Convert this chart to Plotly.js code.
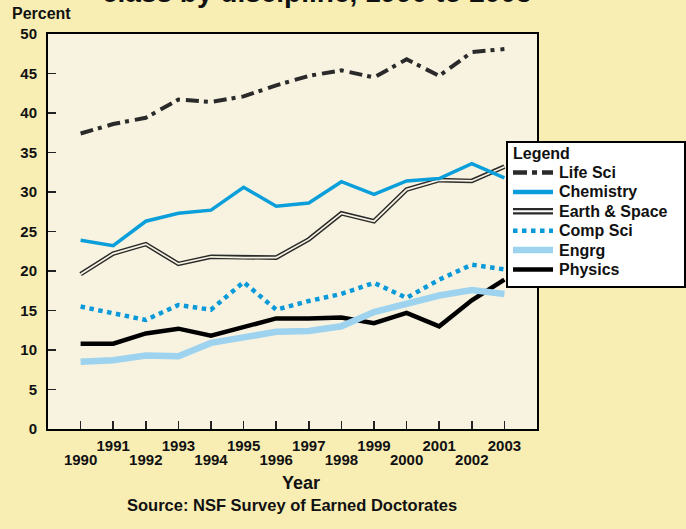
<!DOCTYPE html>
<html>
<head>
<meta charset="utf-8">
<script src="https://cdn.plot.ly/plotly-3.0.1.min.js"></script>
<style>html,body{margin:0;padding:0;background:#F8EEB4;}#chart{width:686px;height:529px;}</style>
</head>
<body>
<div id="chart"></div>
<script>
const years = [1990,1991,1992,1993,1994,1995,1996,1997,1998,1999,2000,2001,2002,2003];
const lifeSci   = [37.4,38.6,39.4,41.7,41.4,42.1,43.5,44.7,45.4,44.5,46.8,44.7,47.7,48.1];
const chemistry = [23.9,23.2,26.3,27.3,27.7,30.6,28.2,28.6,31.3,29.7,31.4,31.7,33.6,31.8];
const earthSpace= [19.6,22.2,23.4,20.9,21.8,21.7,21.7,24.0,27.3,26.3,30.3,31.5,31.4,33.2];
const compSci   = [15.5,14.6,13.8,15.7,15.1,18.6,15.1,16.2,17.1,18.5,16.6,18.9,20.8,20.2];
const engrg     = [8.5,8.7,9.3,9.2,10.9,11.6,12.3,12.4,13.0,14.8,15.8,16.9,17.6,17.1];
const physics   = [10.8,10.8,12.1,12.7,11.8,12.9,14.0,14.0,14.1,13.4,14.7,13.0,16.3,18.9];
const seriesNames = ['Life Sci','Chemistry','Earth & Space','Comp Sci','Engrg','Physics'];
const oddYears = years.filter(y => y % 2 === 1);
const evenYears = years.filter(y => y % 2 === 0);
const yTicks = [0,5,10,15,20,25,30,35,40,45,50];

const FONT = 'Liberation Sans, Arial, sans-serif';
const PLOTBG = '#F8F3E1';
const INK = '#111111';

// styles, in legend order
const styles = [
  {color:'#2A2A2A', width:4, dash:'13px,5px,4px,6px'},
  {color:'#0A9FDB', width:3.5, dash:'solid'},
  {color:'#2A2A2A', width:4.6, dash:'solid', inner:1.7},
  {color:'#0A9ADA', width:4.5, dash:'dot'},
  {color:'#9DD3EE', width:6.5, dash:'solid'},
  {color:'#000000', width:4.5, dash:'solid'}
];
const seriesData = [lifeSci, chemistry, earthSpace, compSci, engrg, physics];

// draw order (bottom to top): Physics, Engrg, Comp Sci, Earth & Space, Chemistry, Life Sci
const drawOrder = [5,4,3,2,1,0];
const traces = [];
drawOrder.forEach(i => {
  const s = styles[i];
  traces.push({x: years, y: seriesData[i], name: seriesNames[i], mode:'lines',
    line:{color:s.color, width:s.width, dash:s.dash}, showlegend:false});
  if (s.inner) {
    traces.push({x: years, y: seriesData[i], name: seriesNames[i], mode:'lines',
      line:{color:PLOTBG, width:s.inner}, showlegend:false});
  }
});
// carrier for the second row of year labels
traces.push({x: evenYears, y: evenYears.map(() => null), xaxis:'x2', yaxis:'y',
  mode:'lines', showlegend:false, hoverinfo:'skip'});

// pixel helpers for the hand-built legend box (plot area 48..537 x, 34..429 y)
const L = 48, W = 489, B = 429, H = 395;
const px = v => (v - L) / W;
const py = v => (B - v) / H;

const shapes = [
  {type:'rect', xref:'paper', yref:'paper', x0:px(507), x1:px(685), y0:py(287), y1:py(142),
   fillcolor:'#FFFFFF', line:{color:'#000000', width:2}, layer:'above'}
];
const annotations = [
  {text:'<b>Legend</b>', xref:'paper', yref:'paper', x:px(511), y:py(153.5),
   xanchor:'left', yanchor:'middle', showarrow:false, font:{family:FONT, size:16, color:INK}}
];
seriesNames.forEach((n, i) => {
  const yy = 172.5 + i * 19.4;
  const s = styles[i];
  shapes.push({type:'line', xref:'paper', yref:'paper', x0:px(513), x1:px(553),
    y0:py(yy), y1:py(yy), layer:'above',
    line:{color:s.color, width: s.inner ? 6.5 : Math.max(s.width, 4.5), dash: i===0 ? '14px,5px,5px,5px' : s.dash}});
  if (s.inner) {
    shapes.push({type:'line', xref:'paper', yref:'paper', x0:px(512), x1:px(554),
      y0:py(yy), y1:py(yy), layer:'above', line:{color:'#FFFFFF', width:2}});
  }
  annotations.push({text:'<b>' + n.replace('&','&amp;') + '</b>', xref:'paper', yref:'paper',
    x:px(557), y:py(yy), xanchor:'left', yanchor:'middle', showarrow:false,
    font:{family:FONT, size:16, color:INK}});
});

annotations.push(
  {text:'<b>class by discipline, 1990 to 2003</b>', xref:'paper', yref:'paper',
   x:0.55, y:1.0605, xanchor:'center', yanchor:'bottom', showarrow:false,
   font:{family:FONT, size:28, color:INK}},
  {text:'<b>Percent</b>', xref:'paper', yref:'paper', x:px(10), y:py(24),
   xanchor:'left', yanchor:'bottom', showarrow:false,
   font:{family:FONT, size:16, color:INK}},
  {text:'<b>Year</b>', xref:'paper', yref:'paper', x:px(300.5), y:py(483),
   xanchor:'center', yanchor:'middle', showarrow:false,
   font:{family:FONT, size:18, color:INK}},
  {text:'<b>Source: NSF Survey of Earned Doctorates</b>', xref:'paper', yref:'paper',
   x:px(292), y:py(505), xanchor:'center', yanchor:'middle', showarrow:false,
   font:{family:FONT, size:16.5, color:INK}}
);

const tickFont = {family:FONT, size:15, color:INK, weight:'bold'};
const layout = {
  width: 686, height: 529,
  paper_bgcolor: '#F8EEB4',
  plot_bgcolor: PLOTBG,
  margin: {l:48, r:149, t:34, b:100},
  font: {family: FONT, color:INK, size:15},
  showlegend: false,
  xaxis: {
    range:[1989,2004], tickmode:'array', tickvals: years,
    ticktext: years.map(y => (y % 2 === 1 ? String(y) : '')),
    ticks:'inside', ticklen:8, tickwidth:1.5, tickcolor:'#222',
    showline:true, mirror:true, linecolor:'#000', linewidth:2,
    showgrid:false, zeroline:false, fixedrange:true,
    tickfont: tickFont, ticklabelstandoff: 2
  },
  xaxis2: {
    overlaying:'x', anchor:'y', side:'bottom', range:[1989,2004],
    tickmode:'array', tickvals: evenYears, ticktext: evenYears.map(String),
    ticks:'', showline:false, showgrid:false, zeroline:false, fixedrange:true,
    tickfont: tickFont, ticklabelstandoff: 20
  },
  yaxis: {
    range:[0,50], tickmode:'array', tickvals: yTicks, ticktext: yTicks.map(String),
    ticks:'inside', ticklen:8, tickwidth:1.5, tickcolor:'#222',
    showline:true, mirror:true, linecolor:'#000', linewidth:2,
    showgrid:false, zeroline:false, fixedrange:true,
    tickfont: tickFont, ticklabelstandoff: 6
  },
  shapes: shapes,
  annotations: annotations
};

Plotly.newPlot('chart', traces, layout, {displayModeBar:false, staticPlot:true});
</script>
</body>
</html>
